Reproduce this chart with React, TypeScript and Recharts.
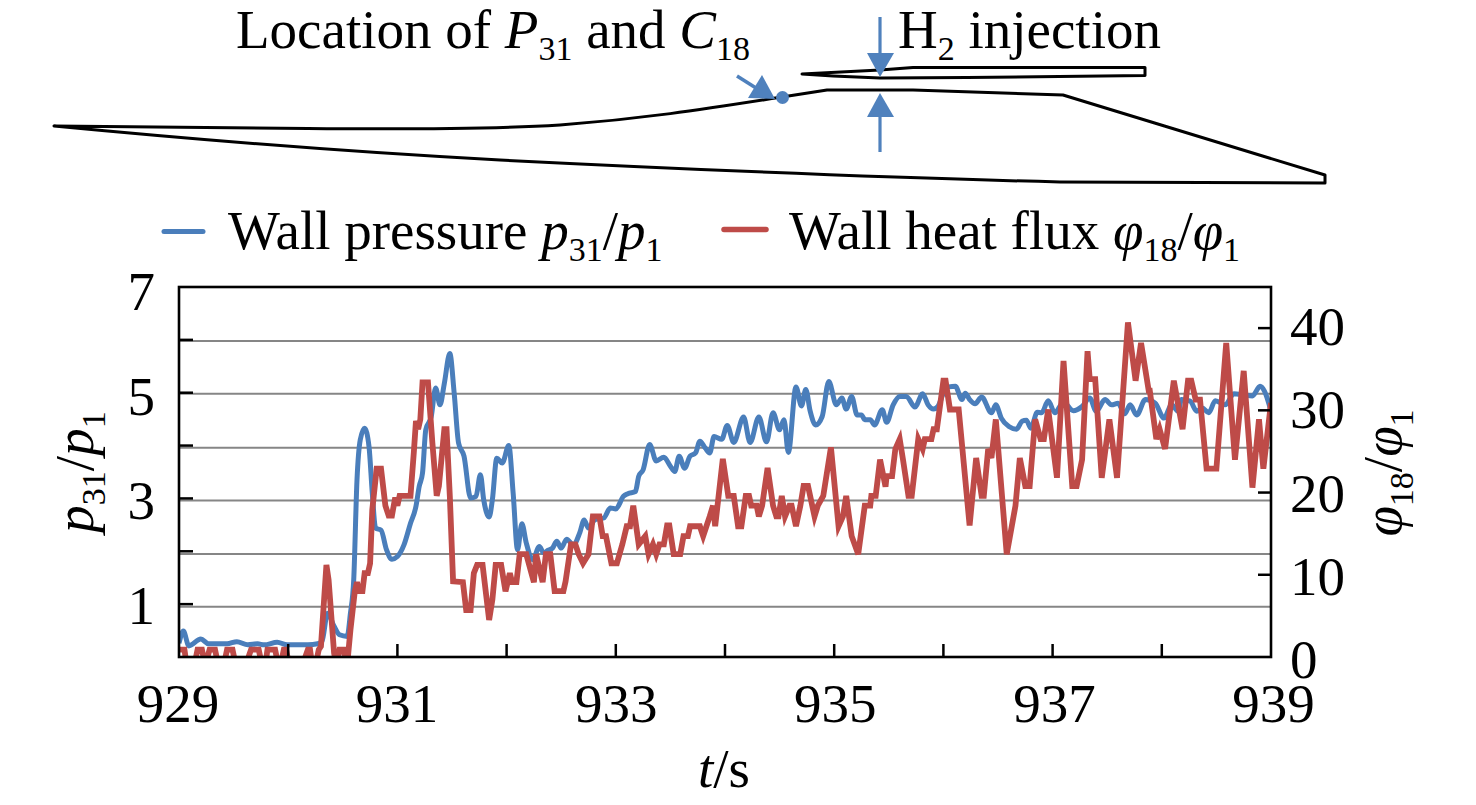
import { CartesianGrid, Line, LineChart, XAxis, YAxis } from 'recharts'

const FONT = '"Liberation Serif", "Times New Roman", serif'
const BLUE = '#4a7ebb'
const RED = '#be4b48'
const ARROW = '#4f81bd'

const timeTicks = [929, 930, 931, 932, 933, 934, 935, 936, 937, 938, 939]
const timeLabels = [929, 931, 933, 935, 937, 939]
const pressureTicks = [0, 1, 2, 3, 4, 5, 6, 7]
const pressureLabels = [1, 3, 5, 7]
const fluxTicks = [0, 10, 20, 30, 40]
const gridValues = [0.95, 1.95, 2.96, 3.96, 4.98, 5.98]

const pressureTime = [
  929.0, 929.04, 929.09, 929.2, 929.27, 929.44, 929.53, 929.63, 929.72, 929.78,
  929.9, 929.99, 930.18, 930.27, 930.31, 930.36, 930.42, 930.47, 930.54, 930.57,
  930.6, 930.63, 930.66, 930.7, 930.74, 930.77, 930.8, 930.85, 930.9, 930.95,
  931.0, 931.06, 931.12, 931.17, 931.2, 931.23, 931.26, 931.31, 931.35, 931.39,
  931.43, 931.48, 931.52, 931.56, 931.61, 931.67, 931.72, 931.76, 931.79, 931.84,
  931.87, 931.91, 931.96, 932.02, 932.06, 932.1, 932.14, 932.18, 932.24, 932.3,
  932.34, 932.38, 932.42, 932.46, 932.5, 932.55, 932.61, 932.67, 932.71, 932.75,
  932.81, 932.89, 932.95, 933.0, 933.07, 933.11, 933.18, 933.21, 933.25, 933.31,
  933.37, 933.44, 933.5, 933.54, 933.58, 933.63, 933.68, 933.73, 933.77, 933.82,
  933.86, 933.9, 933.97, 934.02, 934.08, 934.17, 934.23, 934.31, 934.38, 934.44,
  934.5, 934.54, 934.58, 934.65, 934.7, 934.74, 934.78, 934.83, 934.89, 934.95,
  935.02, 935.07, 935.11, 935.16, 935.21, 935.25, 935.28, 935.33, 935.37, 935.44,
  935.48, 935.54, 935.6, 935.66, 935.74, 935.81, 935.86, 935.91, 935.95, 936.0,
  936.05, 936.11, 936.17, 936.2, 936.24, 936.29, 936.35, 936.44, 936.48, 936.53,
  936.6, 936.67, 936.72, 936.76, 936.8, 936.86, 936.9, 936.96, 937.02, 937.1,
  937.19, 937.27, 937.34, 937.4, 937.48, 937.54, 937.6, 937.66, 937.71, 937.77,
  937.85, 937.94, 938.02, 938.09, 938.15, 938.18, 938.26, 938.32, 938.37, 938.43,
  938.49, 938.58, 938.66, 938.75, 938.83, 938.9, 938.94, 939.0,
]

const pressureValues = [
  0.26, 0.49, 0.21, 0.34, 0.25, 0.25, 0.29, 0.23, 0.25, 0.23,
  0.28, 0.23, 0.23, 0.25, 0.3, 0.83, 0.58, 0.42, 0.39, 0.83,
  1.46, 3.35, 4.11, 4.33, 3.98, 3.1, 2.44, 2.4, 2.03, 1.85,
  1.9, 2.12, 2.53, 2.85, 3.23, 3.48, 4.3, 4.55, 5.09, 4.77,
  5.18, 5.74, 4.99, 4.05, 3.8, 3.01, 3.04, 3.45, 2.98, 2.65,
  2.98, 3.76, 3.67, 4.0, 3.1, 2.03, 2.52, 2.16, 1.84, 2.09,
  1.97, 2.02, 2.06, 2.19, 2.06, 2.23, 2.12, 2.35, 2.59, 2.44,
  2.6, 2.63, 2.82, 2.8, 3.04, 3.09, 3.13, 3.42, 3.54, 4.02,
  3.71, 3.78, 3.61, 3.51, 3.8, 3.57, 3.8, 3.86, 4.08, 3.95,
  3.86, 4.17, 4.12, 4.38, 4.06, 4.54, 4.06, 4.54, 4.07, 4.62,
  4.3, 4.49, 3.87, 5.11, 4.75, 5.06, 4.65, 4.39, 4.55, 5.21,
  4.77, 4.9, 4.69, 4.93, 4.58, 4.58, 4.49, 4.49, 4.39, 4.68,
  4.44, 4.77, 4.93, 4.93, 4.73, 4.98, 4.77, 4.69, 4.74, 4.99,
  5.11, 5.12, 4.87, 4.99, 4.87, 4.79, 4.92, 4.62, 4.77, 4.52,
  4.36, 4.31, 4.46, 4.48, 4.33, 4.63, 4.62, 4.85, 4.62, 4.82,
  4.66, 4.74, 4.9, 4.65, 4.87, 4.77, 4.8, 4.6, 4.77, 4.58,
  4.87, 4.8, 4.52, 4.77, 4.65, 4.87, 4.84, 4.65, 4.71, 4.62,
  4.85, 4.77, 4.98, 4.96, 4.94, 5.12, 5.03, 4.65,
]

const fluxTime = [
  929.0, 929.05, 929.07, 929.14, 929.17, 929.21, 929.24, 929.28, 929.33, 929.36,
  929.41, 929.44, 929.49, 929.52, 929.61, 929.66, 929.73, 929.76, 929.79, 929.81,
  929.88, 929.91, 929.93, 929.96, 929.98, 930.01, 930.13, 930.18, 930.2, 930.22,
  930.25, 930.28, 930.3, 930.35, 930.37, 930.42, 930.44, 930.47, 930.51, 930.53,
  930.54, 930.57, 930.61, 930.63, 930.65, 930.68, 930.7, 930.73, 930.75, 930.77,
  930.81, 930.85, 930.89, 930.92, 930.95, 930.98, 931.0, 931.02, 931.12, 931.15,
  931.17, 931.19, 931.21, 931.23, 931.28, 931.32, 931.36, 931.38, 931.43, 931.45,
  931.48, 931.51, 931.6, 931.63, 931.67, 931.7, 931.73, 931.78, 931.84, 931.87,
  931.9, 931.95, 931.99, 932.03, 932.05, 932.09, 932.12, 932.18, 932.25, 932.27,
  932.33, 932.36, 932.4, 932.44, 932.52, 932.54, 932.59, 932.63, 932.66, 932.7,
  932.75, 932.79, 932.85, 932.88, 932.91, 932.96, 933.01, 933.06, 933.1, 933.13,
  933.16, 933.21, 933.27, 933.3, 933.34, 933.37, 933.4, 933.44, 933.47, 933.49,
  933.53, 933.59, 933.62, 933.66, 933.68, 933.77, 933.8, 933.83, 933.86, 933.89,
  933.91, 933.98, 934.03, 934.08, 934.12, 934.15, 934.19, 934.22, 934.24, 934.29,
  934.31, 934.34, 934.39, 934.44, 934.47, 934.49, 934.52, 934.55, 934.59, 934.61,
  934.65, 934.69, 934.72, 934.76, 934.82, 934.85, 934.9, 934.97, 935.04, 935.08,
  935.11, 935.16, 935.22, 935.28, 935.33, 935.34, 935.38, 935.42, 935.47, 935.48,
  935.53, 935.56, 935.6, 935.63, 935.68, 935.71, 935.77, 935.81, 935.83, 935.89,
  935.91, 935.94, 936.0, 936.02, 936.06, 936.14, 936.24, 936.3, 936.35, 936.37,
  936.41, 936.44, 936.48, 936.58, 936.66, 936.7, 936.75, 936.79, 936.84, 936.89,
  936.92, 936.96, 937.04, 937.1, 937.18, 937.22, 937.27, 937.32, 937.34, 937.39,
  937.45, 937.52, 937.59, 937.69, 937.76, 937.81, 937.88, 937.89, 937.95, 937.98,
  938.03, 938.11, 938.19, 938.24, 938.27, 938.31, 938.35, 938.41, 938.5, 938.59,
  938.67, 938.75, 938.83, 938.89, 938.93, 939.0,
]

const fluxValues = [
  0.9, 0.9, -1, -1, 0.9, 0.9, -1, 0.9, 0.9, -1,
  -1, 0.9, 0.9, -1, -1, 0.9, 0.9, -1, -1, 0.9,
  0.9, -1, -1, 0.9, 0.9, -1, -1, 0.9, 0.9, -1,
  -1, 0.9, 1.3, 11.2, 9.4, 0.5, -1, 0.9, 0.9, -1,
  -1, 3.3, 8, 9.1, 8, 8, 10.2, 10.2, 11.4, 17.9,
  22.9, 22.9, 18.4, 17.2, 17.2, 19.4, 18.4, 19.6, 19.6, 24.8,
  28.7, 27.7, 28.9, 33.4, 33.4, 26.1, 19.6, 20.8, 27.7, 27.7,
  19.6, 9.2, 9.1, 5.7, 5.7, 10.2, 11.2, 11.2, 4.5, 7,
  11.2, 11.2, 8, 10.2, 9.1, 9.1, 12.5, 12.5, 9.1, 12.5,
  9.1, 12.5, 12.5, 8, 8, 9.2, 13.7, 13.7, 12.5, 11.4,
  12.5, 17.1, 17.1, 14.7, 14.7, 11.4, 11.4, 13.7, 15.9, 15.9,
  18.4, 13.7, 14.7, 12.5, 13.7, 12.5, 13.7, 13.7, 16, 16,
  12.5, 12.5, 14.7, 14.7, 15.9, 15.9, 14.7, 15.9, 17.1, 18.4,
  15.9, 24.1, 19.6, 19.6, 15.9, 15.9, 19.6, 19.6, 18.4, 18.4,
  17.1, 18.4, 23, 18.4, 17.1, 17.1, 19.6, 17.1, 18.4, 18.4,
  15.9, 18.4, 20.8, 20.8, 17.1, 18.4, 19.6, 25.5, 15.9, 17.1,
  19.6, 14.7, 12.5, 18.4, 18.4, 19.6, 19.6, 24, 20.7, 22,
  22, 25.3, 26.5, 24, 19.6, 19.6, 26.5, 25.3, 26.5, 26.5,
  27.7, 27.7, 33.6, 33.6, 30.1, 30.1, 16, 24.2, 19.6, 19.6,
  25.3, 24.2, 28.9, 12.5, 18.4, 24.2, 20.8, 20.8, 28.9, 26.5,
  26.5, 30.1, 21.8, 36, 20.8, 20.8, 24, 37.2, 33.8, 33.8,
  21.8, 28.9, 21.8, 40.7, 33.6, 38.2, 32.4, 32.4, 26.5, 27.7,
  25.3, 33.6, 27.7, 33.6, 33.6, 31.3, 31.3, 22.9, 22.9, 38.2,
  24, 34.8, 20.6, 28.9, 22.9, 30.9,
]

const pressureData = pressureTime.map((t, i) => ({ t, v: pressureValues[i] }))
const fluxData = fluxTime.map((t, i) => ({ t, v: fluxValues[i] }))

function TimeTick({ x, payload }: any) {
  const v = payload.value
  const edge = v === 929 || v === 939
  return (
    <g>
      {!edge && <line x1={x} y1={657} x2={x} y2={644} stroke="#000" strokeWidth={2.5} />}
      {timeLabels.includes(v) && (
        <text x={x - 1 + (v - 929) * 0.35} y={722} textAnchor="middle" fontFamily={FONT} fontSize={55} fill="#000">{v}</text>
      )}
    </g>
  )
}

function PressureTick({ y, payload }: any) {
  const v = payload.value
  return (
    <g>
      {v > 0 && v < 7 && <line x1={179} y1={y} x2={193} y2={y} stroke="#000" strokeWidth={2.5} />}
      {pressureLabels.includes(v) && (
        <text x={155} y={y + 20 + (v - 1) * 0.45} textAnchor="end" fontFamily={FONT} fontSize={55} fill="#000">{v}</text>
      )}
    </g>
  )
}

function FluxTick({ y, payload }: any) {
  const v = payload.value
  return (
    <g>
      {v > 0 && <line x1={1271} y1={y} x2={1258} y2={y} stroke="#000" strokeWidth={2.5} />}
      <text x={1290} y={y + 21 - v * 0.1} textAnchor="start" fontFamily={FONT} fontSize={55} fill="#000">{v}</text>
    </g>
  )
}

// nozzle sketch, legend, frame and axis titles sit on top of the chart
function Overlay() {
  return (
    <svg width={1476} height={805} style={{ position: 'absolute', left: 0, top: 0, pointerEvents: 'none' }}>
      <rect x={179} y={287} width={1092} height={370} fill="none" stroke="#000" strokeWidth={2.6} />

      <text x={236} y={48} fontFamily={FONT} fontSize={55}>
        Location of <tspan fontStyle="italic">P</tspan>
        <tspan fontSize={34} dy={12}>31</tspan>
        <tspan dy={-12}> and </tspan>
        <tspan fontStyle="italic">C</tspan>
        <tspan fontSize={34} dy={12}>18</tspan>
      </text>
      <text x={898} y={48} fontFamily={FONT} fontSize={55}>
        H<tspan fontSize={34} dy={12}>2</tspan>
        <tspan dy={-12}> injection</tspan>
      </text>

      <path
        d="M54 126 L308 128.5 C420 129.5 500 128.5 560 125 C640 119 700 110 782 97 L827 90 L913 90 L1063 95 L1325 175 L1325 183 L1060 182 C900 178 700 170 500 160 C350 152 200 140 54 126 Z"
        fill="none" stroke="#000" strokeWidth={3} strokeLinejoin="round"
      />
      <path
        d="M802 74 L880 70 L913 67.5 L1145 67.5 L1145 75.5 L967 77.5 L880 78 L833 76 Z"
        fill="none" stroke="#000" strokeWidth={3} strokeLinejoin="round"
      />

      <line x1={880} y1={17} x2={880} y2={55} stroke={ARROW} strokeWidth={3.2} />
      <polygon points="867,53 894,53 880,77" fill={ARROW} />
      <line x1={880} y1={115} x2={880} y2={152} stroke={ARROW} strokeWidth={3.2} />
      <polygon points="867,117 894,117 880,93" fill={ARROW} />
      <line x1={737} y1={76} x2={756} y2={88} stroke={ARROW} strokeWidth={3.6} />
      <polygon points="748,98 762,75 775,99" fill={ARROW} />
      <circle cx={782.5} cy={97.5} r={6.5} fill={ARROW} />

      <line x1={164} y1={231.5} x2={203} y2={231.5} stroke={BLUE} strokeWidth={5} strokeLinecap="round" />
      <text x={228} y={249} fontFamily={FONT} fontSize={55}>
        Wall pressure <tspan fontStyle="italic">p</tspan>
        <tspan fontSize={34} dy={12}>31</tspan>
        <tspan dy={-12}>/</tspan>
        <tspan fontStyle="italic">p</tspan>
        <tspan fontSize={34} dy={12}>1</tspan>
      </text>
      <line x1={724} y1={229.5} x2={766} y2={229.5} stroke={RED} strokeWidth={5.5} strokeLinecap="round" />
      <text x={789} y={249} fontFamily={FONT} fontSize={55}>
        Wall heat flux <tspan fontStyle="italic">φ</tspan>
        <tspan fontSize={34} dy={12}>18</tspan>
        <tspan dy={-12}>/</tspan>
        <tspan fontStyle="italic">φ</tspan>
        <tspan fontSize={34} dy={12}>1</tspan>
      </text>

      <text transform="translate(93 472) rotate(-90)" textAnchor="middle" fontFamily={FONT} fontSize={55}>
        <tspan fontStyle="italic">p</tspan>
        <tspan fontSize={34} dy={12}>31</tspan>
        <tspan dy={-12}>/</tspan>
        <tspan fontStyle="italic">p</tspan>
        <tspan fontSize={34} dy={12}>1</tspan>
      </text>
      <text transform="translate(1401 473) rotate(-90)" textAnchor="middle" fontFamily={FONT} fontSize={55}>
        <tspan fontStyle="italic">φ</tspan>
        <tspan fontSize={34} dy={12}>18</tspan>
        <tspan dy={-12}>/</tspan>
        <tspan fontStyle="italic">φ</tspan>
        <tspan fontSize={34} dy={12}>1</tspan>
      </text>
      <text x={724} y={787} textAnchor="middle" fontFamily={FONT} fontSize={55}>
        <tspan fontStyle="italic">t</tspan>/s
      </text>
    </svg>
  )
}

export default function App() {
  return (
    <div style={{ position: 'absolute', left: 0, top: 0, width: 1476, height: 805, background: '#fff', overflow: 'hidden' }}>
      <LineChart width={1476} height={805} margin={{ top: 287, right: 204, bottom: 147, left: 178 }}>
        <CartesianGrid yAxisId="left" vertical={false} horizontalValues={gridValues} stroke="#868686" strokeWidth={2} />
        <XAxis
          dataKey="t"
          type="number"
          domain={[929, 939]}
          ticks={timeTicks}
          interval={0}
          height={1}
          allowDataOverflow
          axisLine={false}
          tickLine={false}
          tick={<TimeTick />}
        />
        <YAxis
          yAxisId="left"
          domain={[0, 7]}
          ticks={pressureTicks}
          interval={0}
          width={1}
          allowDataOverflow
          axisLine={false}
          tickLine={false}
          tick={<PressureTick />}
        />
        <YAxis
          yAxisId="right"
          orientation="right"
          domain={[0, 45]}
          ticks={fluxTicks}
          interval={0}
          width={1}
          allowDataOverflow
          axisLine={false}
          tickLine={false}
          tick={<FluxTick />}
        />
        <Line
          yAxisId="left"
          data={pressureData}
          dataKey="v"
          name="Wall pressure"
          type="monotone"
          stroke={BLUE}
          strokeWidth={5}
          dot={false}
          isAnimationActive={false}
        />
        <Line
          yAxisId="right"
          data={fluxData}
          dataKey="v"
          name="Wall heat flux"
          type="linear"
          stroke={RED}
          strokeWidth={5.8}
          dot={false}
          isAnimationActive={false}
        />
      </LineChart>
      <Overlay />
    </div>
  )
}
